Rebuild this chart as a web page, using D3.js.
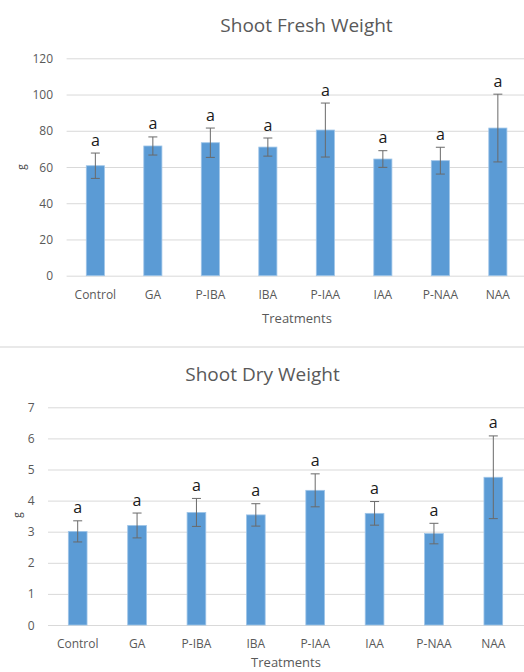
<!DOCTYPE html>
<html>
<head>
<meta charset="utf-8">
<script src="https://cdn.jsdelivr.net/npm/d3@7"></script>
<style>
  body { margin: 0; background: #fff; }
  text { font-family: "Open Sans", sans-serif; }
</style>
</head>
<body>
<div id="chart"></div>
<script>
// data
var treatments = ["Control", "GA", "P-IBA", "IBA", "P-IAA", "IAA", "P-NAA", "NAA"];
var letters = ["a", "a", "a", "a", "a", "a", "a", "a"];

var freshMean = [60.7, 71.6, 73.4, 71.0, 80.4, 64.4, 63.5, 81.5];
var freshErr  = [7.0, 5.0, 8.1, 5.0, 14.9, 4.6, 7.4, 18.7];
var freshTicks = [0, 20, 40, 60, 80, 100, 120];

var dryMean = [3.01, 3.20, 3.62, 3.54, 4.33, 3.59, 2.94, 4.75];
var dryErr  = [0.34, 0.40, 0.45, 0.36, 0.53, 0.38, 0.33, 1.33];
var dryTicks = [0, 1, 2, 3, 4, 5, 6, 7];

var W = 524, H = 672;
var svg = d3.select("#chart").append("svg")
    .attr("width", W)
    .attr("height", H);

function drawPanel(opt) {
    var data = treatments.map(function (t, i) {
        return { name: t, mean: opt.mean[i], err: opt.err[i], letter: letters[i] };
    });

    var x = d3.scaleBand()
        .domain(treatments)
        .range([opt.left, opt.right])
        .paddingInner(0.685)
        .paddingOuter(0.3425);

    var y = d3.scaleLinear()
        .domain([0, d3.max(opt.ticks)])
        .range([opt.bottom, opt.top]);

    var g = svg.append("g");

    // gridlines + y tick labels
    var yAxis = g.append("g")
        .attr("transform", "translate(" + opt.left + ",0)")
        .call(d3.axisLeft(y)
            .tickValues(opt.ticks)
            .tickFormat(d3.format("d"))
            .tickSizeInner(-(W - opt.left))
            .tickSizeOuter(0)
            .tickPadding(13.5));
    yAxis.select(".domain").remove();
    yAxis.selectAll("line").attr("stroke", "#d9d9d9");
    yAxis.selectAll("text")
        .attr("fill", "#595959")
        .style("font-size", "12px")
        .attr("dy", "0.34em");

    // category labels
    var xAxis = g.append("g")
        .attr("transform", "translate(0," + opt.bottom + ")")
        .call(d3.axisBottom(x).tickSize(0).tickPadding(14.8));
    xAxis.select(".domain").remove();
    xAxis.selectAll("text")
        .attr("fill", "#595959")
        .style("font-size", "12px");

    // bars
    g.append("g").selectAll("rect")
        .data(data)
        .enter()
        .append("rect")
        .attr("x", function (d) { return x(d.name); })
        .attr("y", function (d) { return y(d.mean); })
        .attr("width", x.bandwidth())
        .attr("height", function (d) { return y(0) - y(d.mean); })
        .attr("fill", "#5b9bd5")
        .attr("stroke", "#9fc5e8")
        .attr("stroke-width", 0.8);

    // error bars
    var eb = g.append("g").selectAll("g")
        .data(data)
        .enter()
        .append("g")
        .attr("stroke", "#6a6a6a")
        .attr("stroke-width", 1);
    var cx = function (d) { return x(d.name) + x.bandwidth() / 2; };
    eb.append("line")
        .attr("x1", cx).attr("x2", cx)
        .attr("y1", function (d) { return y(d.mean + d.err); })
        .attr("y2", function (d) { return y(d.mean - d.err); });
    eb.append("line")
        .attr("x1", function (d) { return cx(d) - 4.5; })
        .attr("x2", function (d) { return cx(d) + 4.5; })
        .attr("y1", function (d) { return y(d.mean + d.err); })
        .attr("y2", function (d) { return y(d.mean + d.err); });
    eb.append("line")
        .attr("x1", function (d) { return cx(d) - 4.5; })
        .attr("x2", function (d) { return cx(d) + 4.5; })
        .attr("y1", function (d) { return y(d.mean - d.err); })
        .attr("y2", function (d) { return y(d.mean - d.err); });

    // significance letters
    g.append("g").selectAll("text")
        .data(data)
        .enter()
        .append("text")
        .attr("x", cx)
        .attr("y", function (d) { return y(d.mean + d.err) - 7.5; })
        .attr("text-anchor", "middle")
        .attr("fill", "#1a1a1a")
        .style("font-size", "16px")
        .text(function (d) { return d.letter; });

    // title
    g.append("text")
        .attr("x", opt.titleX)
        .attr("y", opt.titleY)
        .attr("text-anchor", "middle")
        .attr("fill", "#595959")
        .style("font-size", "19px")
        .text(opt.title);

    // axis titles
    g.append("text")
        .attr("x", opt.xTitleX)
        .attr("y", opt.xTitleY)
        .attr("text-anchor", "middle")
        .attr("fill", "#595959")
        .style("font-size", "13px")
        .text("Treatments");

    g.append("text")
        .attr("transform", "translate(" + opt.gX + "," + opt.gY + ") rotate(-90)")
        .attr("text-anchor", "middle")
        .attr("fill", "#404040")
        .style("font-size", "10px")
        .text("g");
}

drawPanel({
    mean: freshMean, err: freshErr, ticks: freshTicks,
    left: 66.6, right: 526.6, top: 58.3, bottom: 275.7,
    title: "Shoot Fresh Weight", titleX: 306.5, titleY: 31.5,
    xTitleX: 297, xTitleY: 323,
    gX: 25, gY: 167
});

// border between the two charts
svg.append("line")
    .attr("x1", 0).attr("x2", W)
    .attr("y1", 347).attr("y2", 347)
    .attr("stroke", "#e2e2e2")
    .attr("stroke-width", 1.5);

drawPanel({
    mean: dryMean, err: dryErr, ticks: dryTicks,
    left: 48, right: 523, top: 407.3, bottom: 625,
    title: "Shoot Dry Weight", titleX: 262.5, titleY: 381,
    xTitleX: 286, xTitleY: 667,
    gX: 21, gY: 515
});
</script>
</body>
</html>
